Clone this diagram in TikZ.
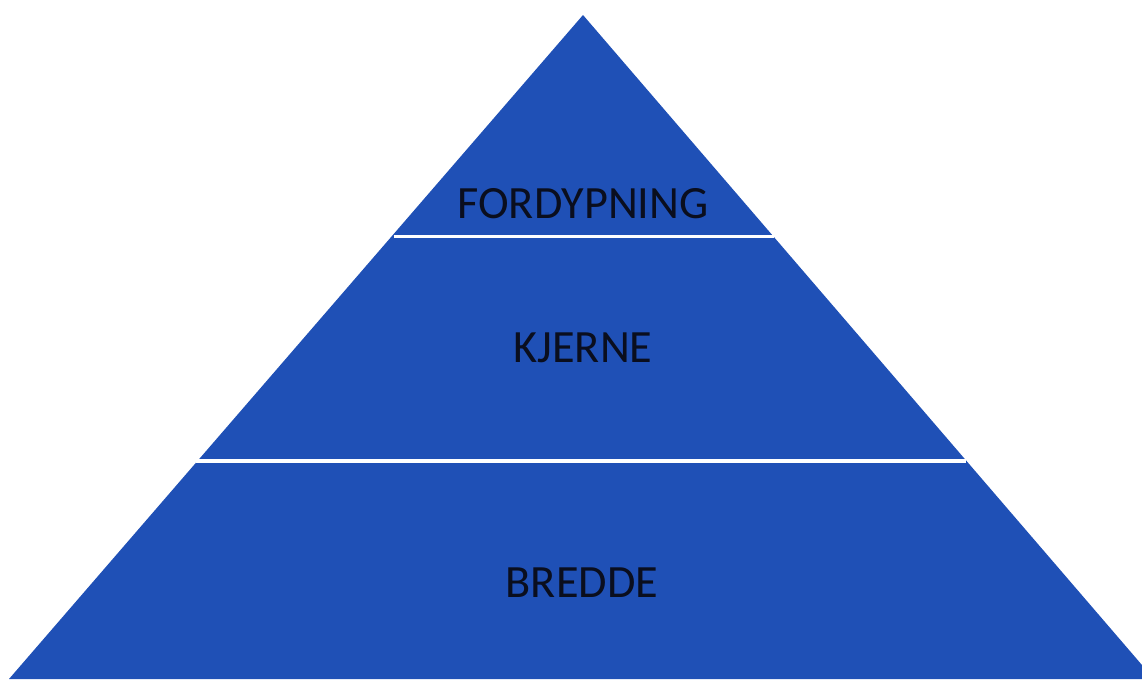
\documentclass[tikz,border=0pt]{standalone}
\usepackage{fontspec}
\setmainfont{Carlito}
\tikzset{every picture/.style={line width=0.75pt}}
\definecolor{pyrblue}{RGB}{31,80,182}
\tikzset{
  lvltext/.style={anchor=center, inner sep=0.75pt, font=\fontsize{34.7}{40}\selectfont, text={rgb,255:red,10;green,14;blue,30}},
  gapline/.style={draw=white, line width=2.6pt}
}
\begin{document}
\begin{tikzpicture}[x=0.75pt,y=0.75pt,yscale=-1,xscale=1]
\useasboundingbox (0,0) rectangle (1142,679);
\clip (0,0) rectangle (1142,679);
%Shape: Triangle
\coordinate (apex) at (583,15);
\coordinate (baseL) at (9,679);
\coordinate (baseR) at (1154,679);
\fill [pyrblue] (apex) -- (baseR) -- (baseL) -- cycle ;
%Straight Lines
\coordinate (topL) at (393.5,236.5);
\coordinate (topR) at (774,236.5);
\coordinate (midL) at (196,461);
\coordinate (midR) at (966,461);
\draw [gapline] (topL) -- (topR) ;
\draw [gapline] (midL) -- (midR) ;
% Text Node
\node (fordypning) at (583,204) [lvltext] {FORDYPNING};
% Text Node
\node (kjerne) at (583,348) [lvltext] {KJERNE};
% Text Node
\node (bredde) at (582,583) [lvltext] {BREDDE};
\end{tikzpicture}
\end{document}
